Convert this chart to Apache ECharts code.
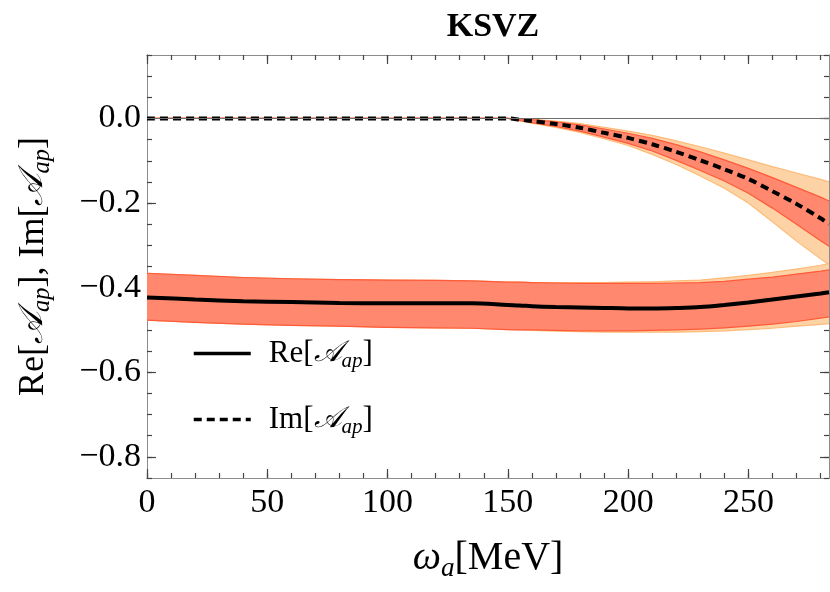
<!DOCTYPE html>
<html>
<head>
<meta charset="utf-8">
<script src="https://cdn.jsdelivr.net/npm/echarts@6/dist/echarts.min.js"></script>
<style>
html, body { margin: 0; padding: 0; background: #fff; }
#chart { width: 830px; height: 592px; }
</style>
</head>
<body>
<div id="chart"></div>
<script>
// omega_a in MeV
const omega = [0, 20, 40, 60, 80, 100, 120, 135, 150, 155, 160, 170, 180, 190, 200, 210, 220, 230, 240, 250, 260, 270, 280, 283.5];

// Re[A_ap]
const reMid     = [-0.423, -0.428, -0.432, -0.434, -0.436, -0.437, -0.437, -0.437, -0.441, -0.442, -0.444, -0.446, -0.447, -0.448, -0.449, -0.449, -0.448, -0.446, -0.441, -0.435, -0.428, -0.421, -0.414, -0.411];
const reInnerUp = [-0.366, -0.371, -0.376, -0.379, -0.381, -0.382, -0.383, -0.384, -0.387, -0.387, -0.388, -0.389, -0.390, -0.390, -0.390, -0.390, -0.389, -0.388, -0.385, -0.380, -0.375, -0.368, -0.361, -0.358];
const reInnerLo = [-0.477, -0.482, -0.486, -0.489, -0.491, -0.494, -0.495, -0.496, -0.499, -0.500, -0.500, -0.501, -0.502, -0.502, -0.502, -0.501, -0.500, -0.498, -0.495, -0.491, -0.486, -0.480, -0.472, -0.469];
const reOuterUp = [-0.366, -0.371, -0.376, -0.379, -0.381, -0.382, -0.383, -0.384, -0.387, -0.387, -0.388, -0.388, -0.388, -0.388, -0.387, -0.386, -0.384, -0.382, -0.377, -0.371, -0.364, -0.356, -0.347, -0.343];
const reOuterLo = [-0.477, -0.482, -0.486, -0.489, -0.491, -0.494, -0.495, -0.496, -0.499, -0.500, -0.501, -0.503, -0.504, -0.505, -0.505, -0.505, -0.505, -0.504, -0.502, -0.499, -0.496, -0.491, -0.487, -0.485];

// Im[A_ap]
const imMid     = [0, 0, 0, 0, 0, 0, 0, 0, 0, -0.003, -0.006, -0.013, -0.022, -0.034, -0.046, -0.061, -0.079, -0.099, -0.120, -0.143, -0.172, -0.202, -0.236, -0.250];
const imInnerUp = [0, 0, 0, 0, 0, 0, 0, 0, 0, -0.001, -0.003, -0.008, -0.015, -0.025, -0.035, -0.047, -0.062, -0.079, -0.098, -0.118, -0.140, -0.163, -0.186, -0.195];
const imInnerLo = [0, 0, 0, 0, 0, 0, 0, 0, 0, -0.005, -0.010, -0.019, -0.030, -0.044, -0.059, -0.077, -0.099, -0.123, -0.148, -0.177, -0.212, -0.250, -0.289, -0.302];
const imOuterUp = [0, 0, 0, 0, 0, 0, 0, 0, 0, -0.001, -0.002, -0.006, -0.012, -0.021, -0.030, -0.040, -0.053, -0.067, -0.082, -0.098, -0.114, -0.129, -0.144, -0.150];
const imOuterLo = [0, 0, 0, 0, 0, 0, 0, 0, 0, -0.005, -0.011, -0.021, -0.033, -0.048, -0.064, -0.085, -0.109, -0.136, -0.165, -0.200, -0.244, -0.290, -0.332, -0.346];

// ticks
const xMajorTicks = [0, 50, 100, 150, 200, 250];
const xMinorTicks = [0, 10, 20, 30, 40, 50, 60, 70, 80, 90, 100, 110, 120, 130, 140, 150, 160, 170, 180, 190, 200, 210, 220, 230, 240, 250, 260, 270, 280];
const yMajorTicks = [-0.8, -0.6, -0.4, -0.2, 0];
const yMinorTicks = [-0.85, -0.8, -0.75, -0.7, -0.65, -0.6, -0.55, -0.5, -0.45, -0.4, -0.35, -0.3, -0.25, -0.2, -0.15, -0.1, -0.05, 0, 0.05, 0.1, 0.15];

const serif = "'Liberation Serif', 'Times New Roman', serif";
const frameColor = '#8c8c8c';
const tickColor = '#444';
const innerFill = '#ff886e', innerEdge = '#ff5a3a';
const outerFill = '#fdd3a5', outerEdge = '#fdbb78';
const SM = 0.3;
const gridW = 682, gridH = 423;

const pairs = ys => omega.map((x, i) => [x, ys[i]]);

// filled band between lo and up, drawn through the grid's scales
function band(lo, up, fill, edge) {
  return {
    type: 'custom', silent: true,
    data: omega.map((x, i) => [x, lo[i], up[i]]),
    encode: {x: 0, y: [1, 2]},
    renderItem: (params, api) => {
      if (params.dataIndex !== 0) return null;
      const top = omega.map((x, i) => api.coord([x, up[i]]));
      const bot = omega.map((x, i) => api.coord([x, lo[i]]));
      return {
        type: 'group',
        children: [
          {type: 'polygon', shape: {points: top.concat(bot.slice().reverse())}, style: {fill: fill, stroke: null}},
          {type: 'polyline', shape: {points: top}, style: {stroke: edge, fill: null, lineWidth: 1.2}},
          {type: 'polyline', shape: {points: bot}, style: {stroke: edge, fill: null, lineWidth: 1.2}},
        ]
      };
    }
  };
}

const mathRich = size => ({
  n: {fontFamily: serif, fontSize: size, lineHeight: size * 1.2, color: '#000'},
  p: {fontFamily: serif, fontSize: size, lineHeight: size * 1.2, color: '#000', padding: [0, 0, 0, 13]},
  c: {fontFamily: "'DejaVu Serif', 'Liberation Serif', serif", fontSize: size * 0.95, fontStyle: 'italic', lineHeight: size * 1.2, color: '#000'},
  i: {fontFamily: serif, fontSize: size, fontStyle: 'italic', lineHeight: size * 1.2, color: '#000'},
  s: {fontFamily: serif, fontSize: size * 0.68, fontStyle: 'italic', lineHeight: size * 0.38, verticalAlign: 'bottom', color: '#000'},
});

// frame side: an axis sitting on the opposite edge (negative offset), ticks pointing outward = into the plot
const tickAxis = (pos, offset, min, max, values, len) => ({
  type: 'value', position: pos, offset: offset, min: min, max: max,
  axisLine: {show: true, onZero: false, lineStyle: {color: frameColor, width: 1}},
  axisTick: {show: true, inside: false, length: len, customValues: values, lineStyle: {color: tickColor, width: 1.2}},
  axisLabel: {show: false},
  splitLine: {show: false},
});

const xMain = {
  type: 'value', position: 'bottom', min: 0, max: 283.5,
  axisLine: {show: true, onZero: false, lineStyle: {color: frameColor, width: 1}},
  axisTick: {show: false},
  splitLine: {show: false},
  axisLabel: {show: true, customValues: xMajorTicks, fontFamily: serif, fontSize: 34, color: '#000', margin: 8},
  name: '{i|ω}{s|a}{n|[MeV]}',
  nameLocation: 'middle',
  nameGap: 56,
  nameTextStyle: {rich: mathRich(40)},
};

const yMain = {
  type: 'value', position: 'left', min: -0.85, max: 0.15,
  axisLine: {show: true, onZero: false, lineStyle: {color: frameColor, width: 1}},
  axisTick: {show: false},
  splitLine: {show: false},
  axisLabel: {
    show: true, customValues: yMajorTicks, fontFamily: serif, fontSize: 34, color: '#000', margin: 6,
    formatter: v => (v < -1e-9 ? '\u2212' : '') + Math.abs(v).toFixed(1)
  },
  name: '{n|Re[}{c|𝒜}{s|ap}{n|], Im[}{c|𝒜}{s|ap}{n|]}',
  nameLocation: 'middle',
  nameGap: 92,
  nameTextStyle: {rich: mathRich(36)},
};

const chart = echarts.init(document.getElementById('chart'));
chart.setOption({
  animation: false,
  backgroundColor: '#fff',
  title: {
    text: 'KSVZ', left: 488, top: 5, textAlign: 'center',
    textStyle: {fontFamily: serif, fontWeight: 'bold', fontSize: 34, color: '#000'}
  },
  grid: {left: 147, right: 1, top: 55, bottom: 114, containLabel: false},
  legend: {
    data: ['Re', 'Im'], orient: 'vertical', left: 187, top: 333, itemWidth: 57, itemHeight: 14, itemGap: 32,
    selectedMode: false,
    itemStyle: {opacity: 0},
    lineStyle: {width: 3.5},
    formatter: name => '{p|' + name + '[}{c|𝒜}{s|ap}{n|]}',
    textStyle: {rich: mathRich(31)}
  },
  xAxis: [
    xMain,
    tickAxis('top', -gridH, 0, 283.5, xMajorTicks, 9),      // bottom edge
    tickAxis('top', -gridH, 0, 283.5, xMinorTicks, 5),
    tickAxis('bottom', -gridH, 0, 283.5, xMajorTicks, 9),   // top edge
    tickAxis('bottom', -gridH, 0, 283.5, xMinorTicks, 5),
  ],
  yAxis: [
    yMain,
    tickAxis('right', -gridW, -0.85, 0.15, yMajorTicks, 9), // left edge
    tickAxis('right', -gridW, -0.85, 0.15, yMinorTicks, 5),
    tickAxis('left', -gridW, -0.85, 0.15, yMajorTicks, 9),  // right edge
    tickAxis('left', -gridW, -0.85, 0.15, yMinorTicks, 5),
  ],
  series: [
    {
      name: 'zero', type: 'line', data: [], silent: true,
      markLine: {
        silent: true, symbol: 'none', label: {show: false}, animation: false,
        lineStyle: {color: '#6e6e6e', width: 1, type: 'solid'},
        data: [{yAxis: 0}]
      }
    },
    band(imOuterLo, imOuterUp, outerFill, outerEdge),
    band(reOuterLo, reOuterUp, outerFill, outerEdge),
    band(imInnerLo, imInnerUp, innerFill, innerEdge),
    band(reInnerLo, reInnerUp, innerFill, innerEdge),
    {
      name: 'Re', type: 'line', data: pairs(reMid), symbol: 'none', smooth: SM,
      lineStyle: {color: '#000', width: 4}, itemStyle: {color: '#000'}
    },
    {
      name: 'Im', type: 'line', data: pairs(imMid), symbol: 'none', smooth: SM,
      lineStyle: {color: '#000', width: 4, type: [8, 5]}, itemStyle: {color: '#000'}
    },
  ]
});
</script>
</body>
</html>
